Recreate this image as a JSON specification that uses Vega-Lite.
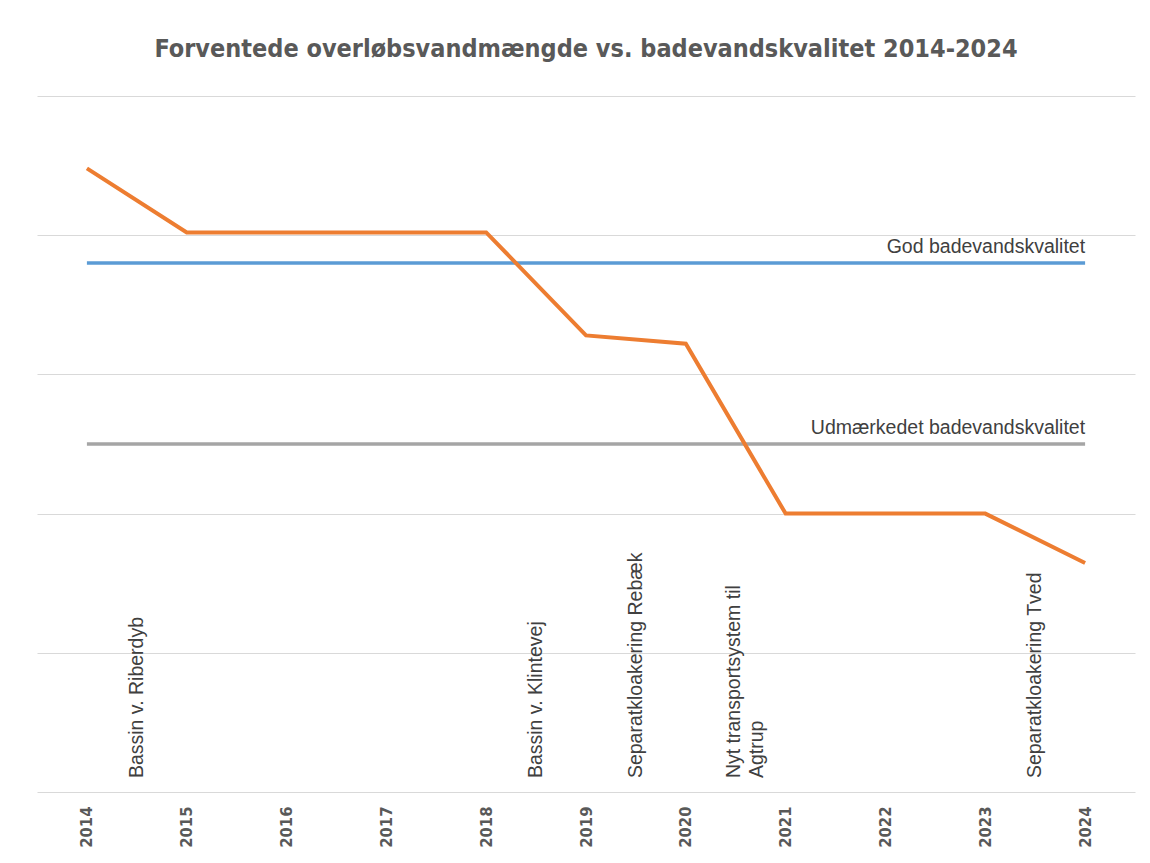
{
  "$schema": "https://vega.github.io/schema/vega-lite/v6.json",
  "width": 1098,
  "height": 696,
  "autosize": {"type": "none"},
  "padding": {"left": 37, "top": 96, "right": 15, "bottom": 71},
  "background": "white",
  "config": {"view": {"stroke": null}},
  "title": {
    "text": "Forventede overløbsvandmængde vs. badevandskvalitet 2014-2024",
    "font": "DejaVu Sans Condensed",
    "fontWeight": "bold",
    "fontSize": 25,
    "color": "#595959",
    "anchor": "middle",
    "offset": 34
  },
  "datasets": {
    "flow": [
      {"year": 2014, "value": 4.48},
      {"year": 2015, "value": 4.02},
      {"year": 2016, "value": 4.02},
      {"year": 2017, "value": 4.02},
      {"year": 2018, "value": 4.02},
      {"year": 2019, "value": 3.28},
      {"year": 2020, "value": 3.22},
      {"year": 2021, "value": 2.0},
      {"year": 2022, "value": 2.0},
      {"year": 2023, "value": 2.0},
      {"year": 2024, "value": 1.645}
    ],
    "levels": [
      {"series": "God badevandskvalitet", "year": 2014, "value": 3.8},
      {"series": "God badevandskvalitet", "year": 2024, "value": 3.8},
      {"series": "Udmærkedet badevandskvalitet", "year": 2014, "value": 2.5},
      {"series": "Udmærkedet badevandskvalitet", "year": 2024, "value": 2.5}
    ],
    "levelLabels": [
      {"label": "God badevandskvalitet", "year": 2024, "value": 3.8},
      {"label": "Udmærkedet badevandskvalitet", "year": 2024, "value": 2.5}
    ],
    "events": [
      {"year": 2014.5, "label": "Bassin v. Riberdyb", "value": 0.1},
      {"year": 2018.5, "label": "Bassin v. Klintevej", "value": 0.1},
      {"year": 2019.5, "label": "Separatkloakering Rebæk", "value": 0.1},
      {"year": 2023.5, "label": "Separatkloakering Tved", "value": 0.1}
    ],
    "events2": [
      {"year": 2020.5, "label": "Nyt transportsystem til\nAgtrup", "value": 0.1}
    ]
  },
  "encoding": {
    "x": {
      "field": "year",
      "type": "quantitative",
      "scale": {"domain": [2013.5, 2024.5], "nice": false, "zero": false},
      "axis": {
        "title": null,
        "values": [2014, 2015, 2016, 2017, 2018, 2019, 2020, 2021, 2022, 2023, 2024],
        "format": "d",
        "labelAngle": -90,
        "labelAlign": "right",
        "labelBaseline": "middle",
        "labelPadding": 14,
        "labelFont": "DejaVu Sans Condensed",
        "labelFontWeight": "bold",
        "labelFontSize": 16.5,
        "labelColor": "#595959",
        "domain": false,
        "ticks": false,
        "grid": false
      }
    },
    "y": {
      "field": "value",
      "type": "quantitative",
      "scale": {"domain": [0, 5], "nice": false},
      "axis": {
        "title": null,
        "values": [0, 1, 2, 3, 4, 5],
        "labels": false,
        "ticks": false,
        "domain": false,
        "grid": true,
        "gridColor": "#d9d9d9",
        "gridWidth": 1.2
      }
    }
  },
  "layer": [
    {
      "data": {"name": "levels"},
      "mark": {"type": "line", "strokeWidth": 3.5},
      "encoding": {
        "color": {
          "field": "series",
          "type": "nominal",
          "scale": {"domain": ["God badevandskvalitet", "Udmærkedet badevandskvalitet"], "range": ["#5b9bd5", "#a5a5a5"]},
          "legend": null
        }
      }
    },
    {
      "data": {"name": "flow"},
      "mark": {"type": "line", "color": "#ed7d31", "strokeWidth": 4}
    },
    {
      "data": {"name": "levelLabels"},
      "mark": {"type": "text", "align": "right", "baseline": "bottom", "dy": -6, "font": "Liberation Sans", "fontSize": 19.5, "color": "#404040"},
      "encoding": {"text": {"field": "label", "type": "nominal"}}
    },
    {
      "data": {"name": "events"},
      "mark": {"type": "text", "angle": 270, "align": "left", "baseline": "middle", "font": "Liberation Sans", "fontSize": 19.5, "color": "#404040"},
      "encoding": {"text": {"field": "label", "type": "nominal"}}
    },
    {
      "data": {"name": "events2"},
      "mark": {"type": "text", "angle": 270, "align": "left", "baseline": "middle", "dy": -2, "lineBreak": "\n", "lineHeight": 23, "font": "Liberation Sans", "fontSize": 19.5, "color": "#404040"},
      "encoding": {"text": {"field": "label", "type": "nominal"}}
    }
  ]
}
